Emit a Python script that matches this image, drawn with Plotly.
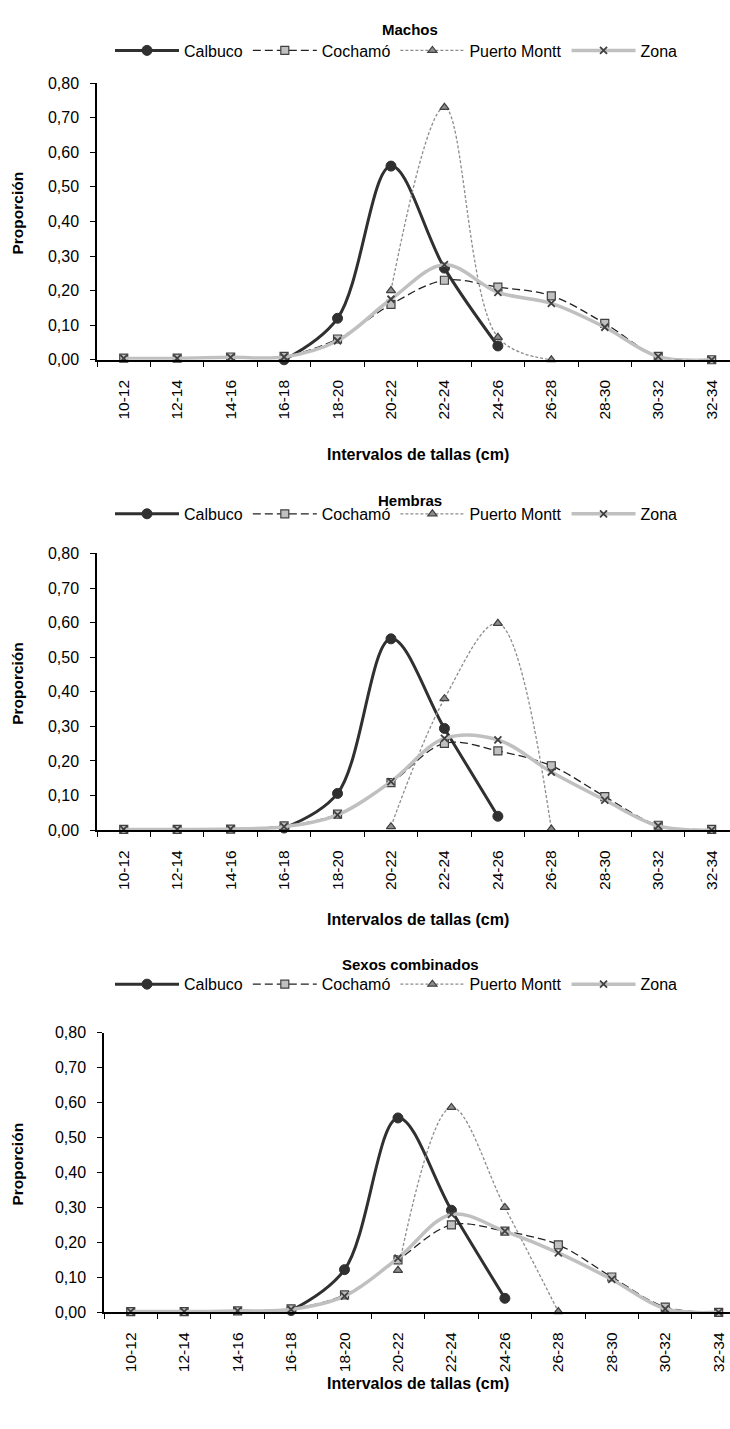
import plotly.graph_objects as go

categories = ["10-12", "12-14", "14-16", "16-18", "18-20", "20-22",
              "22-24", "24-26", "26-28", "28-30", "30-32", "32-34"]
y_tick_values = [0, 0.1, 0.2, 0.3, 0.4, 0.5, 0.6, 0.7, 0.8]
y_tick_labels = ["0,00", "0,10", "0,20", "0,30", "0,40", "0,50", "0,60", "0,70", "0,80"]
series_names = ["Calbuco", "Cochamó", "Puerto Montt", "Zona"]
panel_titles = ["Machos", "Hembras", "Sexos combinados"]

# Machos
machos_calbuco = [None, None, None, 0.00, 0.12, 0.56, 0.265, 0.04, None, None, None, None]
machos_cochamo = [0.005, 0.005, 0.008, 0.01, 0.06, 0.16, 0.23, 0.21, 0.185, 0.105, 0.01, 0.0]
machos_pmontt = [None, None, None, None, None, 0.20, 0.73, 0.065, 0.0, None, None, None]
machos_zona = [0.004, 0.004, 0.007, 0.008, 0.055, 0.175, 0.275, 0.195, 0.163, 0.094, 0.009, 0.0]

# Hembras
hembras_calbuco = [None, None, None, 0.006, 0.106, 0.553, 0.294, 0.04, None, None, None, None]
hembras_cochamo = [0.002, 0.002, 0.003, 0.012, 0.046, 0.137, 0.251, 0.229, 0.186, 0.097, 0.014, 0.002]
hembras_pmontt = [None, None, None, None, None, 0.01, 0.38, 0.598, 0.003, None, None, None]
hembras_zona = [0.002, 0.002, 0.003, 0.01, 0.044, 0.14, 0.265, 0.261, 0.168, 0.087, 0.012, 0.0]

# Sexos combinados
comb_calbuco = [None, None, None, 0.005, 0.122, 0.556, 0.292, 0.04, None, None, None, None]
comb_cochamo = [0.002, 0.002, 0.004, 0.01, 0.05, 0.15, 0.25, 0.232, 0.193, 0.101, 0.015, 0.0]
comb_pmontt = [None, None, None, None, None, 0.12, 0.586, 0.30, 0.002, None, None, None]
comb_zona = [0.002, 0.002, 0.004, 0.008, 0.046, 0.155, 0.28, 0.232, 0.17, 0.094, 0.01, 0.0]

panels = [
    [machos_calbuco, machos_cochamo, machos_pmontt, machos_zona],
    [hembras_calbuco, hembras_cochamo, hembras_pmontt, hembras_zona],
    [comb_calbuco, comb_cochamo, comb_pmontt, comb_zona],
]

W, H = 730, 1429
FONT = "Liberation Sans, Arial, sans-serif"

# pixel layout of each panel: (x_left, y_top, y_bottom, title_y, legend_y, xtitle_y)
geom = [
    (97, 76, 356, 22, 43, 452),
    (97, 552, 832, 498, 512, 922),
    (104, 1037, 1320, 968, 988, 1392),
]
cat_px = 53.45

styles = [
    dict(line=dict(color="#303030", width=3, shape="spline"),
         marker=dict(symbol="circle", size=10, color="#303030",
                     line=dict(color="#303030", width=1))),
    dict(line=dict(color="#222222", width=1.3, dash="8px,4px", shape="spline"),
         marker=dict(symbol="square", size=8, color="#c0c0c0",
                     line=dict(color="#404040", width=1.2))),
    dict(line=dict(color="#8c8c8c", width=1.3, dash="3px,2px", shape="spline"),
         marker=dict(symbol="triangle-up", size=8, color="#8c8c8c",
                     line=dict(color="#404040", width=1.2))),
    dict(line=dict(color="#c0c0c0", width=3.5, shape="spline"),
         marker=dict(symbol="x-thin", size=7, color="#404040",
                     line=dict(color="#404040", width=1.8))),
]

fig = go.Figure()
annotations = []
layout_axes = {}

for p, (series, g) in enumerate(zip(panels, geom)):
    xl, yt, yb, ty, ly, xty = g
    sfx = "" if p == 0 else str(p + 1)
    legend_name = "legend" if p == 0 else f"legend{p + 1}"
    for name, vals, st in zip(series_names, series, styles):
        fig.add_trace(go.Scatter(
            x=categories, y=vals, name=name, mode="lines+markers",
            line=st["line"], marker=st["marker"], connectgaps=False,
            xaxis="x" + sfx, yaxis="y" + sfx, legend=legend_name,
            cliponaxis=False,
        ))
    xmax = (W - xl) / cat_px - 0.5
    layout_axes["xaxis" + sfx] = dict(
        domain=[xl / W, 1.0], anchor="y" + sfx, type="category",
        categoryorder="array", categoryarray=categories,
        range=[-0.5, xmax], tickson="boundaries", ticks="outside",
        ticklen=5, tickwidth=1, tickcolor="black",
        showline=True, linecolor="black", linewidth=2,
        tickangle=-90, tickfont=dict(family=FONT, size=15.5, color="black"),
        ticklabelstandoff=12, showgrid=False, zeroline=False, fixedrange=True,
    )
    layout_axes["yaxis" + sfx] = dict(
        domain=[1 - yb / H, 1 - yt / H], anchor="x" + sfx,
        range=[0, 0.8], tickvals=y_tick_values, ticktext=y_tick_labels,
        ticks="outside", ticklen=5, tickwidth=1, tickcolor="black",
        showline=True, linecolor="black", linewidth=1.5,
        tickfont=dict(family=FONT, size=16, color="black"),
        ticklabelstandoff=8,
        showgrid=False, zeroline=False, fixedrange=True,
    )
    layout_axes[legend_name] = dict(
        orientation="h", x=110 / W, xanchor="left", y=1 - ly / H, yanchor="middle",
        font=dict(family=FONT, size=16, color="black"),
        itemwidth=64,
        bgcolor="rgba(0,0,0,0)", tracegroupgap=0,
    )
    annotations.append(dict(
        text="<b>%s</b>" % panel_titles[p], x=410 / W, y=1 - ty / H,
        xref="paper", yref="paper", showarrow=False, xanchor="center",
        yanchor="middle", font=dict(family=FONT, size=15, color="black")))
    annotations.append(dict(
        text="<b>Proporción</b>", x=18 / W, y=1 - ((yt + yb) / 2 - 8) / H,
        xref="paper", yref="paper", showarrow=False, textangle=-90,
        xanchor="center", yanchor="middle",
        font=dict(family=FONT, size=15.5, color="black")))
    annotations.append(dict(
        text="<b>Intervalos de tallas (cm)</b>", x=418 / W, y=1 - xty / H,
        xref="paper", yref="paper", showarrow=False, xanchor="center",
        yanchor="middle", font=dict(family=FONT, size=16, color="black")))

fig.update_layout(
    width=W, height=H, margin=dict(l=0, r=0, t=0, b=0),
    paper_bgcolor="white", plot_bgcolor="white",
    showlegend=True, annotations=annotations,
    font=dict(family=FONT, size=14, color="black"),
    **layout_axes,
)

fig.write_html(
    "out.html",
    config={"displayModeBar": False},
    post_script="document.body.style.margin='0';document.body.style.overflow='hidden';",
)
